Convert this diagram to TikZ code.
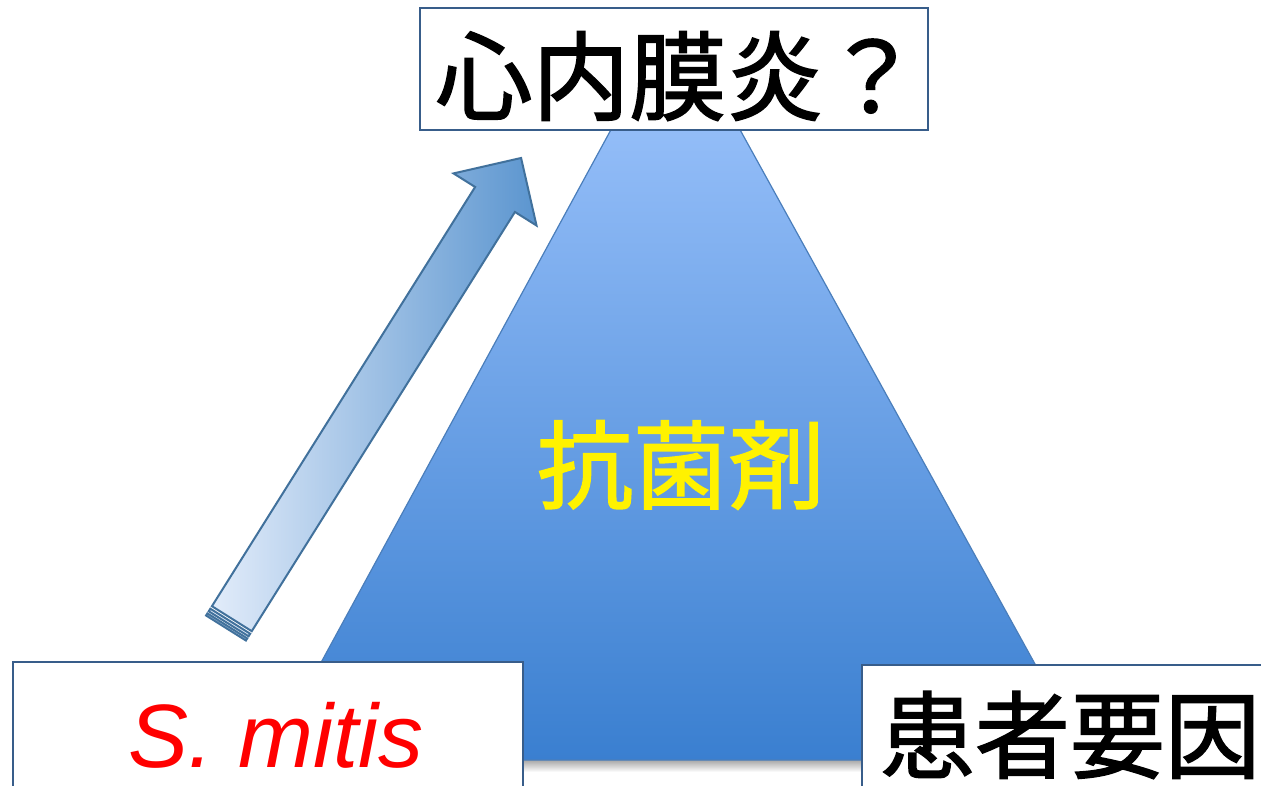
\documentclass[tikz,border=0pt]{standalone}
\usepackage{fontspec}
\newfontfamily\cjk[FakeBold=1.6]{Noto Sans CJK JP}
\newfontfamily\lsans{Liberation Sans}
\definecolor{boxline}{HTML}{385D8A}
\definecolor{triline}{HTML}{4A7EBB}
\definecolor{tritop}{HTML}{A3C8FF}
\definecolor{tribot}{HTML}{3A7FD0}
\definecolor{arrline}{HTML}{41719C}
\definecolor{arrpale}{HTML}{E2ECFA}
\definecolor{arrdark}{HTML}{5B95CF}
\tikzset{
  labelbox/.style={draw=boxline, line width=1.5pt, fill=white, inner sep=0pt},
  bigjp/.style={font=\cjk\fontsize{95}{95}\selectfont, inner sep=0pt},
  arrowpart/.style={draw=arrline, line width=2pt, line join=miter},
}
\begin{document}
\begin{tikzpicture}[x=1pt,y=-1pt]
\useasboundingbox[fill=white] (0,0) rectangle (1261,785);
% shadow under triangle
\shade[top color=black!40, bottom color=white] (275,758) rectangle (1085,772);
% triangle
\shade[top color=tritop, bottom color=tribot, draw=triline, line width=1.2pt]
  (675,12) -- (1088,760) -- (268,760) -- cycle;
\node[font=\cjk\fontsize{96}{96}\selectfont, text=yellow, inner sep=0pt] (drug) at (681,465) {抗菌剤};
% arrow
\begin{scope}[shift={(226,628)}, rotate=57.88]
  \shade[left color=arrpale, right color=arrdark, arrowpart]
    (11,-23.5) -- (506,-23.5) -- (506,-49) -- (555,0) -- (506,49) -- (506,23.5) -- (11,23.5) -- cycle;
  \draw[fill=arrpale, arrowpart] (5,-23.5) rectangle (8,23.5);
  \draw[fill=arrpale, arrowpart] (0,-23.5) rectangle (2.5,23.5);
\end{scope}
% boxes
\node[labelbox, minimum width=508, minimum height=122] (topbox) at (674,69) {};
\node[font=\cjk\fontsize{97}{97}\selectfont, inner sep=0pt] (toptxt) at (678,76) {心内膜炎？};
\node[labelbox, minimum width=510, minimum height=140] (mitisbox) at (268,732) {};
\node[font=\lsans\itshape\fontsize{90}{90}\selectfont, text=red, inner sep=0pt, anchor=base] (mitis) at (276,767) {S. mitis};
\node[labelbox, minimum width=420, minimum height=140] (patbox) at (1072,735) {};
\node[bigjp] (pattxt) at (1070,735) {患者要因};
\end{tikzpicture}
\end{document}
